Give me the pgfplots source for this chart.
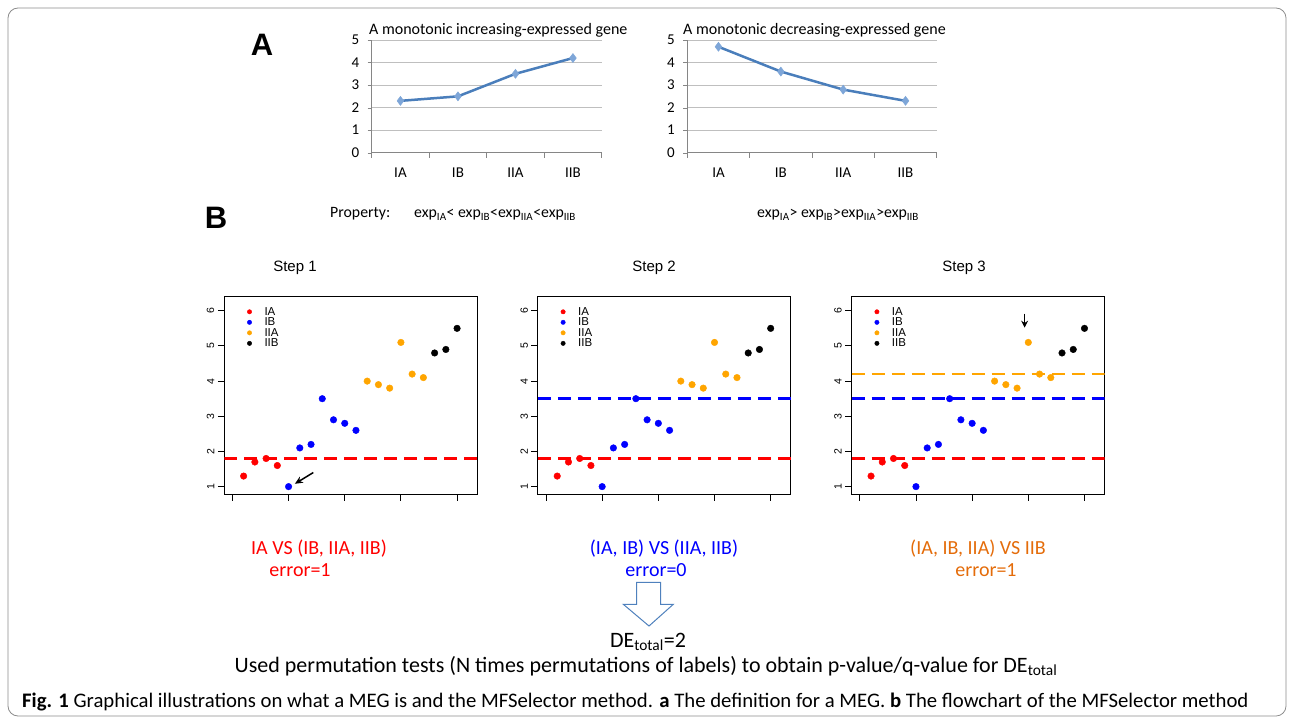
\documentclass[border=0pt]{standalone}
\usepackage{fontspec}
\setmainfont{Carlito}
\newfontfamily\arial{Liberation Sans}
\usepackage{pgfplots}
\pgfplotsset{compat=1.18}
\usepackage{pgfplotstable}
\usetikzlibrary{arrows.meta}
\definecolor{xlblue}{HTML}{4A7EBB}
\definecolor{xlmark}{HTML}{7EA6D8}
\definecolor{xlgrid}{HTML}{BFBFBF}
\definecolor{xlaxis}{HTML}{868686}
\definecolor{rorange}{HTML}{FFA500}
\definecolor{torange}{HTML}{E46C0A}
\definecolor{arrowblue}{HTML}{4F81BD}
\definecolor{framegray}{HTML}{8C8C8C}
\newcommand\fs[1]{\fontsize{#1}{#1}\selectfont}

\pgfplotstableread{
x y
1 1.3
2 1.7
3 1.8
4 1.6
}\tIA
\pgfplotstableread{
x y
5 1.0
6 2.1
7 2.2
8 3.5
9 2.9
10 2.8
11 2.6
}\tIB
\pgfplotstableread{
x y
12 4.0
13 3.9
14 3.8
15 5.1
16 4.2
17 4.1
}\tIIA
\pgfplotstableread{
x y
18 4.8
19 4.9
20 5.5
}\tIIB

\pgfplotsset{
  xlchart/.style={
    scale only axis, height=112.7pt,
    xmin=0.5, xmax=4.5, ymin=0, ymax=5,
    axis x line=bottom, axis y line=left,
    axis line style={-, draw=xlaxis, line width=0.8pt},
    xtick={1,2,3,4}, xticklabels={IA,IB,IIA,IIB},
    minor xtick={0.5,1.5,2.5,3.5,4.5},
    major x tick style={draw=none},
    minor x tick style={draw=xlaxis, line width=0.8pt},
    tick align=outside,
    minor tick length=5pt,
    ytick={0,...,5},
    major tick length=4pt,
    ymajorgrids, grid style={draw=xlgrid, line width=0.8pt},
    y tick style={draw=xlaxis},
    ticklabel style={font=\fs{15}},
    xticklabel style={yshift=-8pt},
    yticklabel style={xshift=-5pt},
    /pgf/number format/assume math mode=true,
    clip=false,
  },
  rscatter/.style={
    scale only axis, width=253pt, height=198pt,
    xmin=-0.72, xmax=21.8, ymin=0.79, ymax=6.42,
    axis line style={line width=0.9pt},
    xtick={0,5,10,15,20}, xticklabels={},
    ytick={1,...,6},
    xtick pos=left, ytick pos=left,
    tick align=outside, major tick length=6.5pt,
    tick style={line width=0.9pt, black},
    yticklabel style={rotate=90, font=\arial\fs{10.5}},
    /pgf/number format/assume math mode=true,
    legend cell align=left,
    legend style={draw=none, fill=none, font=\arial\fs{11.5},
      at={(axis description cs:0.087,0.955)}, anchor=north west,
      row sep=-2.9pt, inner sep=0pt},
    legend image code/.code={\path[draw=none,fill=none] (-3pt,0pt) -- (13pt,0pt); \draw[##1, mark size=2.2pt] plot coordinates {(0pt,0pt)};},
  },
  rpts/.style={only marks, mark=*, mark size=3.3pt, #1, mark options={draw=#1, fill=#1}},
}

\begin{document}
\begin{tikzpicture}
\path[use as bounding box] (0,0) rectangle (1292pt,-722pt);
\draw[framegray, line width=0.8pt, rounded corners=10pt] (8pt,-8pt) rectangle (1286pt,-716pt);

% Panel A, left
\begin{axis}[xlchart, width=230pt, at={(371.7pt,-152.7pt)}, anchor=south west]
\addplot[xlblue, line width=2.5pt, mark=diamond*, mark size=4.5pt,
  mark options={fill=xlmark, draw=xlmark, line width=0.5pt}]
  coordinates {(1,2.3) (2,2.5) (3,3.5) (4,4.2)};
\end{axis}
% Panel A, right
\begin{axis}[xlchart, width=249.4pt, at={(687.3pt,-152.7pt)}, anchor=south west]
\addplot[xlblue, line width=2.5pt, mark=diamond*, mark size=4.5pt,
  mark options={fill=xlmark, draw=xlmark, line width=0.5pt}]
  coordinates {(1,4.7) (2,3.6) (3,2.8) (4,2.3)};
\end{axis}

\node[anchor=west, inner sep=0pt] at (369pt,-30pt) {\fs{16}A monotonic increasing-expressed gene};
\node[anchor=west, inner sep=0pt] at (683pt,-30pt) {\fs{16}A monotonic decreasing-expressed gene};

\node[anchor=base west, inner sep=0pt] at (330pt,-218pt) {\fs{15.8}Property:};
\node[anchor=base west, inner sep=0pt] at (414pt,-218pt) {\fs{15.8}exp\textsubscript{IA}< exp\textsubscript{IB}<exp\textsubscript{IIA}<exp\textsubscript{IIB}};
\node[anchor=base west, inner sep=0pt] at (757pt,-218pt) {\fs{15.8}exp\textsubscript{IA}> exp\textsubscript{IB}>exp\textsubscript{IIA}>exp\textsubscript{IIB}};

\node[inner sep=0pt] at (262pt,-45pt) {\arial\bfseries\fs{31}A};
\node[inner sep=0pt] at (216pt,-218pt) {\arial\bfseries\fs{31}B};

\node[inner sep=0pt] at (295pt,-268pt) {\arial\fs{15}Step 1};
\node[inner sep=0pt] at (654pt,-268pt) {\arial\fs{15}Step 2};
\node[inner sep=0pt] at (964pt,-268pt) {\arial\fs{15}Step 3};

% Panel B, step 1
\begin{axis}[rscatter, at={(224.3pt,-494pt)}, anchor=south west]
\addplot[rpts=red] table[x=x,y=y] {\tIA}; \addlegendentry{IA}
\addplot[rpts=blue] table[x=x,y=y] {\tIB}; \addlegendentry{IB}
\addplot[rpts=rorange] table[x=x,y=y] {\tIIA}; \addlegendentry{IIA}
\addplot[rpts=black] table[x=x,y=y] {\tIIB}; \addlegendentry{IIB}
\addplot[red, line width=2.5pt, dash pattern=on 13pt off 7pt, forget plot] coordinates {(-0.72,1.8) (21.8,1.8)};
\draw[-{Stealth[length=8pt,width=7pt]}, line width=1.5pt] (axis cs:7.2,1.40) -- (axis cs:5.56,1.08);
\end{axis}

% Panel B, step 2
\begin{axis}[rscatter, at={(537.9pt,-494pt)}, anchor=south west]
\addplot[rpts=red] table[x=x,y=y] {\tIA}; \addlegendentry{IA}
\addplot[rpts=blue] table[x=x,y=y] {\tIB}; \addlegendentry{IB}
\addplot[rpts=rorange] table[x=x,y=y] {\tIIA}; \addlegendentry{IIA}
\addplot[rpts=black] table[x=x,y=y] {\tIIB}; \addlegendentry{IIB}
\addplot[red, line width=2.5pt, dash pattern=on 13pt off 7pt, forget plot] coordinates {(-0.72,1.8) (21.8,1.8)};
\addplot[blue, line width=2.5pt, dash pattern=on 13pt off 7pt, forget plot] coordinates {(-0.72,3.5) (21.8,3.5)};
\end{axis}

% Panel B, step 3
\begin{axis}[rscatter, at={(851.7pt,-494pt)}, anchor=south west]
\addplot[rpts=red] table[x=x,y=y] {\tIA}; \addlegendentry{IA}
\addplot[rpts=blue] table[x=x,y=y] {\tIB}; \addlegendentry{IB}
\addplot[rpts=rorange] table[x=x,y=y] {\tIIA}; \addlegendentry{IIA}
\addplot[rpts=black] table[x=x,y=y] {\tIIB}; \addlegendentry{IIB}
\addplot[red, line width=2.5pt, dash pattern=on 13pt off 7pt, forget plot] coordinates {(-0.72,1.8) (21.8,1.8)};
\addplot[blue, line width=2.5pt, dash pattern=on 13pt off 7pt, forget plot] coordinates {(-0.72,3.5) (21.8,3.5)};
\addplot[rorange, line width=2pt, dash pattern=on 13pt off 7pt, forget plot] coordinates {(-0.72,4.2) (21.8,4.2)};
\draw[-{Stealth[length=7pt,width=7pt]}, line width=1.5pt] (axis cs:14.67,5.92) -- (axis cs:14.67,5.52);
\end{axis}

\node[inner sep=0pt, text=red] at (319pt,-549pt) {\fs{20}IA VS (IB, IIA, IIB)};
\node[inner sep=0pt, text=red] at (300pt,-570pt) {\fs{20}error=1};
\node[inner sep=0pt, text=blue] at (664pt,-549pt) {\fs{20}(IA, IB) VS (IIA, IIB)};
\node[inner sep=0pt, text=blue] at (656pt,-570pt) {\fs{20}error=0};
\node[inner sep=0pt, text=torange] at (978pt,-549pt) {\fs{20}(IA, IB, IIA) VS IIB};
\node[inner sep=0pt, text=torange] at (986pt,-570pt) {\fs{20}error=1};

\draw[arrowblue, line width=1pt, fill=white, line join=miter]
  (636.7pt,-582.3pt) -- (660.7pt,-582.3pt) -- (660.7pt,-604.3pt) -- (673.3pt,-604.3pt)
  -- (649pt,-626pt) -- (623.3pt,-604.3pt) -- (636.7pt,-604.3pt) -- cycle;

\node[inner sep=0pt] at (648pt,-642pt) {\fs{22}DE\textsubscript{total}=2};
\node[inner sep=0pt] at (646pt,-666pt) {\fs{22}Used permutation tests (N times permutations of labels) to obtain p-value/q-value for DE\textsubscript{total}};

\node[anchor=base west, inner sep=0pt] at (22pt,-707pt) {\resizebox{1226pt}{14.5pt}{\textbf{Fig. 1} Graphical illustrations on what a MEG is and the MFSelector method. \textbf{a} The definition for a MEG. \textbf{b} The flowchart of the MFSelector method}};
\end{tikzpicture}
\end{document}
